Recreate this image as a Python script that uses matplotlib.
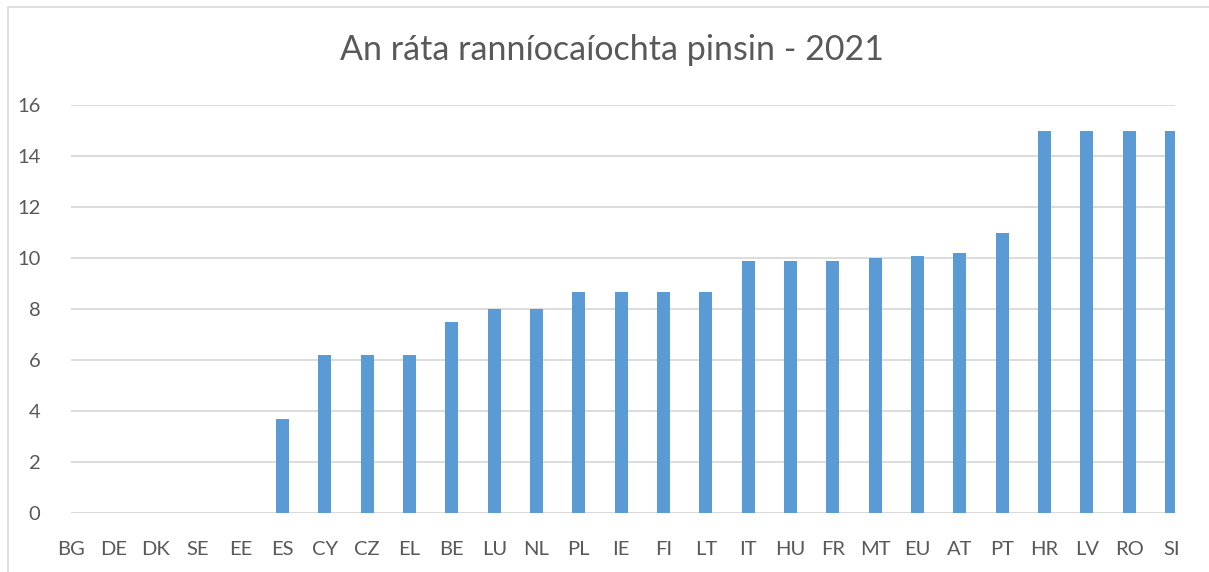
import numpy as np
import matplotlib
matplotlib.use("Agg")
import matplotlib.pyplot as plt
from matplotlib.patches import Rectangle

countries = ["BG", "DE", "DK", "SE", "EE", "ES", "CY", "CZ", "EL", "BE", "LU", "NL", "PL",
             "IE", "FI", "LT", "IT", "HU", "FR", "MT", "EU", "AT", "PT", "HR", "LV", "RO", "SI"]
rates = [0, 0, 0, 0, 0, 3.7, 6.2, 6.2, 6.2, 7.5, 8.0, 8.0, 8.7,
         8.7, 8.7, 8.7, 9.9, 9.9, 9.9, 10.0, 10.1, 10.2, 11.0, 15.0, 15.0, 15.0, 15.0]
yticks = [0, 2, 4, 6, 8, 10, 12, 14, 16]

title = "An ráta ranníocaíochta pinsin - 2021"

text_col = "#595959"
bar_col = "#5B9BD5"
grid_col = "#D9D9D9"

plt.rcParams['font.family'] = ['Lato', 'DejaVu Sans']

fig = plt.figure(figsize=(12.09, 5.72), dpi=100)
ax = fig.add_axes([0.0587, 0.1023, 0.913, 0.7133])

# - light frame around the chart, cut off at right and bottom like the source
fig.patches.append(Rectangle((8 / 1209, -0.1), 1.2, 0.1 + (572 - 7) / 572,
                             transform=fig.transFigure, fill=False,
                             edgecolor="#D9D9D9", linewidth=1.2))

x = np.arange(len(countries))
ax.bar(x, rates, width=0.31, color=bar_col, zorder=3)

ax.set_xlim(0, len(countries) - 1 + 0.08)
ax.set_ylim(0, 16)
ax.set_yticks(yticks)
ax.set_xticks(x)
ax.set_xticklabels(countries)

ax.yaxis.grid(True, color=grid_col, linewidth=1.3, zorder=0)
for side in ["top", "right", "left", "bottom"]:
    ax.spines[side].set_visible(False)
ax.axhline(0, color=grid_col, linewidth=1.3, zorder=2)

ax.tick_params(axis="both", length=0, colors=text_col, labelsize=14.5)
ax.tick_params(axis="x", pad=20)
ax.tick_params(axis="y", pad=22)

fig.text(0.506, 0.912, title, ha="center", va="center", fontsize=24.5, color=text_col)

fig.savefig("out.png", dpi=100)
